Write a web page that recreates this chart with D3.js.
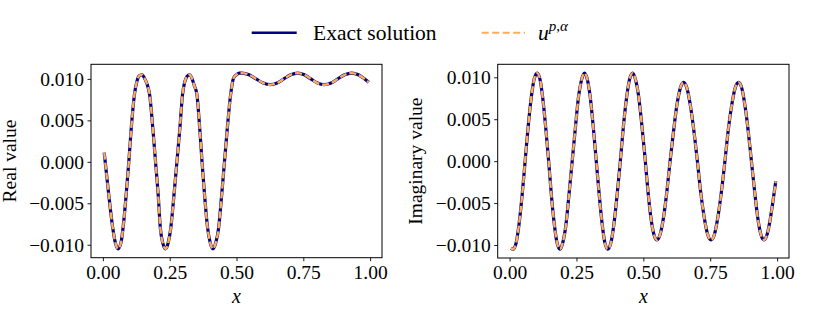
<!DOCTYPE html>
<html><head><meta charset="utf-8">
<script src="https://cdn.jsdelivr.net/npm/d3@7"></script>
<style>
body{margin:0;background:#fff}
svg{display:block}
text{font-family:"Liberation Serif","Times New Roman",serif;fill:#000}
</style>
</head><body>
<svg id="chart" width="830" height="323"></svg>
<script>
// ---- data ----
const xReal = [0.005,0.022,0.037,0.047,0.057,0.068,0.078,0.087,0.097,0.106,0.118,0.128,0.137,0.147,0.157,0.165,0.175,0.187,0.197,0.207,0.215,0.225,0.234,0.244,0.254,0.266,0.277,0.288,0.298,0.306,0.315,0.324,0.333,0.342,0.352,0.362,0.371,0.381,0.392,0.402,0.412,0.422,0.433,0.444,0.455,0.466,0.478,0.489,0.500,0.510,0.520,0.547,0.573,0.600,0.626,0.652,0.677,0.703,0.729,0.754,0.778,0.803,0.828,0.854,0.879,0.905,0.931,0.956,0.975,0.995];
const realExact = [0.0011,-0.0040,-0.0080,-0.0098,-0.0105,-0.0097,-0.0072,-0.0040,0.0000,0.0040,0.0081,0.0098,0.0104,0.0105,0.0100,0.0094,0.0081,0.0040,0.0000,-0.0040,-0.0080,-0.0099,-0.0105,-0.0098,-0.0080,-0.0040,0.0000,0.0040,0.0081,0.0096,0.0103,0.0105,0.0101,0.0092,0.0081,0.0042,0.0000,-0.0042,-0.0080,-0.0098,-0.0105,-0.0098,-0.0080,-0.0042,0.0000,0.0042,0.0081,0.0101,0.0105,0.0107,0.0107,0.0105,0.0100,0.0095,0.0093,0.0095,0.0100,0.0105,0.0107,0.0105,0.0100,0.0095,0.0093,0.0095,0.0100,0.0105,0.0107,0.0105,0.0101,0.0096];
const realApprox = realExact.slice(); // u^{p,alpha} coincides with the exact curve at this scale

const xImag = [0.005,0.013,0.024,0.035,0.047,0.058,0.069,0.081,0.092,0.103,0.114,0.124,0.135,0.146,0.156,0.167,0.177,0.188,0.199,0.211,0.222,0.234,0.246,0.257,0.269,0.280,0.291,0.302,0.313,0.324,0.335,0.346,0.356,0.367,0.379,0.390,0.402,0.414,0.425,0.437,0.448,0.460,0.471,0.483,0.494,0.506,0.517,0.528,0.540,0.551,0.563,0.576,0.588,0.600,0.613,0.625,0.638,0.650,0.663,0.676,0.689,0.702,0.714,0.727,0.740,0.753,0.766,0.779,0.792,0.805,0.817,0.830,0.843,0.856,0.868,0.880,0.892,0.904,0.916,0.927,0.939,0.951,0.963,0.975,0.985,0.995];
const imagExact = [-0.0104,-0.0105,-0.0098,-0.0076,-0.0040,0.0000,0.0040,0.0076,0.0098,0.0105,0.0097,0.0075,0.0040,0.0000,-0.0040,-0.0075,-0.0097,-0.0105,-0.0097,-0.0075,-0.0040,0.0000,0.0040,0.0075,0.0097,0.0105,0.0097,0.0075,0.0040,0.0000,-0.0040,-0.0075,-0.0097,-0.0105,-0.0097,-0.0075,-0.0040,0.0000,0.0040,0.0075,0.0097,0.0105,0.0097,0.0076,0.0044,0.0005,-0.0035,-0.0067,-0.0088,-0.0094,-0.0087,-0.0066,-0.0036,0.0000,0.0036,0.0066,0.0087,0.0094,0.0087,0.0066,0.0036,0.0000,-0.0036,-0.0066,-0.0087,-0.0094,-0.0087,-0.0066,-0.0036,0.0000,0.0036,0.0066,0.0087,0.0094,0.0087,0.0066,0.0036,0.0000,-0.0036,-0.0066,-0.0087,-0.0094,-0.0087,-0.0068,-0.0047,-0.0024];
const imagApprox = imagExact.slice();

const xTicks = [0, 0.25, 0.5, 0.75, 1.0];
const yTicks = [-0.010, -0.005, 0.000, 0.005, 0.010];
const seriesNames = ["Exact solution", "u^{p,\u03b1}"];
const panelLabels = ["Real value", "Imaginary value"];

// ---- drawing ----
const svg = d3.select("#chart");
const exactColor = "#000080";
const approxColor = "#ffac5a";
const tickFont = 19.5;

const panels = [
  {x: xReal, exact: realExact, approx: realApprox, label: panelLabels[0], left: 91, right: 382, top: 64.3, bottom: 257.7, ylabX: 16},
  {x: xImag, exact: imagExact, approx: imagApprox, label: panelLabels[1], left: 497.7, right: 789, top: 64.3, bottom: 258, ylabX: 422}
];

function padded(ext) { const r = ext[1] - ext[0]; return [ext[0] - 0.05 * r, ext[1] + 0.05 * r]; }
const minus = s => s.replace(/-/g, "\u2212");

panels.forEach(p => {
  const xs = d3.scaleLinear().domain(padded(d3.extent(p.x))).range([p.left, p.right]);
  const allY = p.exact.concat(p.approx);
  const ys = d3.scaleLinear().domain(padded(d3.extent(allY))).range([p.bottom, p.top]);

  const g = svg.append("g");
  const clipId = "clip" + Math.round(p.left);
  svg.append("clipPath").attr("id", clipId).append("rect")
    .attr("x", p.left).attr("y", p.top).attr("width", p.right - p.left).attr("height", p.bottom - p.top);

  const line = d3.line().x((d, i) => xs(p.x[i])).y(d => ys(d)).curve(d3.curveMonotoneX);

  const plot = g.append("g").attr("clip-path", `url(#${clipId})`);
  plot.append("path").attr("d", line(p.exact)).attr("fill", "none")
    .attr("stroke", exactColor).attr("stroke-width", 3.2).attr("stroke-linejoin", "round");
  plot.append("path").attr("d", line(p.approx)).attr("fill", "none")
    .attr("stroke", approxColor).attr("stroke-width", 2.4).attr("stroke-dasharray", "7,3");

  // axes
  const xa = g.append("g").attr("transform", `translate(0,${p.bottom})`)
    .call(d3.axisBottom(xs).tickValues(xTicks).tickFormat(d3.format(".2f")).tickSize(3.5).tickPadding(3.5).tickSizeOuter(0));
  const ya = g.append("g").attr("transform", `translate(${p.left},0)`)
    .call(d3.axisLeft(ys).tickValues(yTicks).tickFormat(d => minus(d3.format(".3f")(d))).tickSize(3.5).tickPadding(3.5).tickSizeOuter(0));
  [xa, ya].forEach(a => {
    a.attr("font-family", null).attr("font-size", null);
    a.select(".domain").remove();
    a.selectAll("line").attr("stroke", "#000").attr("stroke-width", 0.9);
    a.selectAll("text").style("font-size", tickFont + "px").attr("fill", "#000");
  });

  g.append("rect").attr("x", p.left).attr("y", p.top).attr("width", p.right - p.left).attr("height", p.bottom - p.top)
    .attr("fill", "none").attr("stroke", "#000").attr("stroke-width", 1);

  // labels
  g.append("text").attr("x", (p.left + p.right) / 2).attr("y", 303).attr("text-anchor", "middle")
    .style("font-size", "20px").attr("font-style", "italic").text("x");
  g.append("text").attr("transform", `translate(${p.ylabX},${(p.top + p.bottom) / 2}) rotate(-90)`)
    .attr("text-anchor", "middle").style("font-size", tickFont + "px").text(p.label);
});

// legend
const lg = svg.append("g");
lg.append("line").attr("x1", 251.7).attr("x2", 296.7).attr("y1", 32.7).attr("y2", 32.7)
  .attr("stroke", exactColor).attr("stroke-width", 2.5);
lg.append("text").attr("x", 313).attr("y", 40).style("font-size", "21.5px").text(seriesNames[0]);
lg.append("line").attr("x1", 481.7).attr("x2", 525).attr("y1", 32.7).attr("y2", 32.7)
  .attr("stroke", approxColor).attr("stroke-width", 2).attr("stroke-dasharray", "7,3.5");
const t2 = lg.append("text").attr("x", 538).attr("y", 40).style("font-size", "21.5px");
t2.append("tspan").attr("font-style", "italic").text("u");
const sup = t2.append("tspan").style("font-size", "15px").attr("dy", -9);
sup.append("tspan").attr("font-style", "italic").text("p");
sup.append("tspan").text(",");
sup.append("tspan").attr("font-style", "italic").text("\u03b1");
</script>
</body></html>
